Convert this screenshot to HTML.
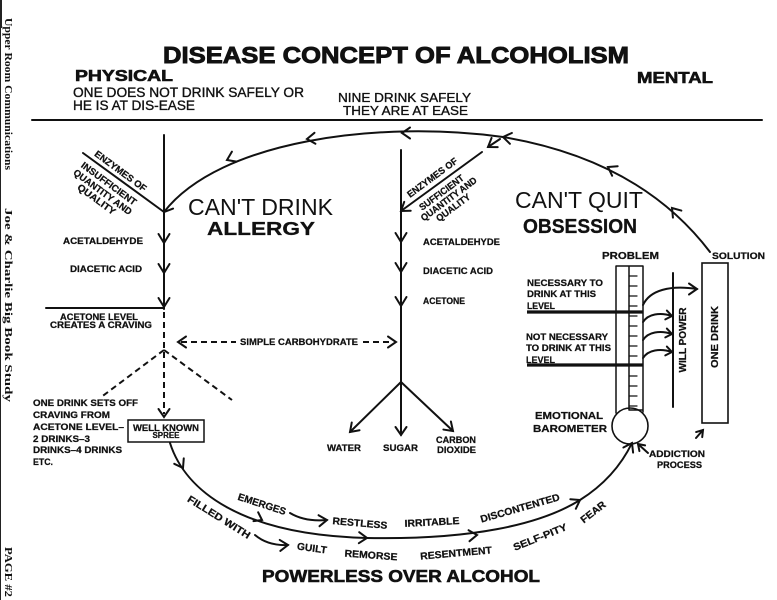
<!DOCTYPE html>
<html><head><meta charset="utf-8">
<style>
html,body{margin:0;padding:0;background:#fff;}
svg{display:block;}
text{font-family:"Liberation Sans",Arial,sans-serif;fill:#111;}
.s{font-size:9.5px;font-weight:bold;stroke:#111;stroke-width:0.25;}
.m{font-size:10px;font-weight:bold;stroke:#111;stroke-width:0.25;}
</style></head><body>
<svg width="777" height="600" viewBox="0 0 777 600" xmlns="http://www.w3.org/2000/svg">
<rect width="777" height="600" fill="#fff"/>
<line x1="0.5" y1="0" x2="0.5" y2="600" stroke="#222" stroke-width="1"/>
<line x1="1" y1="0" x2="1" y2="28" stroke="#222" stroke-width="2"/>

<!-- side texts -->
<g style="font-family:'Liberation Serif',serif;font-size:11px;font-weight:bold;">
<text transform="translate(5,18) rotate(90)" style="font-family:'Liberation Serif',serif" textLength="152" lengthAdjust="spacingAndGlyphs">Upper Room Communications</text>
<text transform="translate(5,208) rotate(90)" style="font-family:'Liberation Serif',serif" textLength="194" lengthAdjust="spacingAndGlyphs">Joe &amp; Charlie Big Book Study</text>
<text transform="translate(5,547) rotate(90)" style="font-family:'Liberation Serif',serif" textLength="50" lengthAdjust="spacingAndGlyphs">PAGE #2</text>
</g>

<!-- headings -->
<text x="163" y="63" font-size="23.5" font-weight="bold" stroke="#111" stroke-width="0.9" textLength="466" lengthAdjust="spacingAndGlyphs">DISEASE CONCEPT OF ALCOHOLISM</text>
<text x="75" y="81" font-size="15.5" font-weight="bold" stroke="#111" stroke-width="0.6" textLength="98" lengthAdjust="spacingAndGlyphs">PHYSICAL</text>
<text x="73" y="97" font-size="13.5" stroke="#111" stroke-width="0.35" textLength="231" lengthAdjust="spacingAndGlyphs">ONE DOES NOT DRINK SAFELY OR</text>
<text x="73" y="110" font-size="13.5" stroke="#111" stroke-width="0.35" textLength="122" lengthAdjust="spacingAndGlyphs">HE IS AT DIS-EASE</text>
<text x="338" y="102" font-size="13" stroke="#111" stroke-width="0.35" textLength="133" lengthAdjust="spacingAndGlyphs">NINE DRINK SAFELY</text>
<text x="343" y="115" font-size="13" stroke="#111" stroke-width="0.35" textLength="125" lengthAdjust="spacingAndGlyphs">THEY ARE AT EASE</text>
<text x="637" y="83" font-size="15.5" font-weight="bold" stroke="#111" stroke-width="0.6" textLength="76" lengthAdjust="spacingAndGlyphs">MENTAL</text>

<text x="188" y="215" font-size="23.5" textLength="145" lengthAdjust="spacingAndGlyphs">CAN'T DRINK</text>
<text x="207" y="235" font-size="18.5" font-weight="bold" stroke="#111" stroke-width="0.3" textLength="108" lengthAdjust="spacingAndGlyphs">ALLERGY</text>
<text x="515" y="208" font-size="23" textLength="128" lengthAdjust="spacingAndGlyphs">CAN'T QUIT</text>
<text x="523" y="233" font-size="20" font-weight="bold" stroke="#111" stroke-width="0.3" textLength="114" lengthAdjust="spacingAndGlyphs">OBSESSION</text>

<!-- lines -->
<g stroke="#111" stroke-width="2" fill="none" stroke-linecap="round">
<path d="M32,120 H762" stroke-width="2"/>
<path d="M710,252 Q640,160 503,137"/>
<path d="M503,137 C380,120 220,140 164,212"/>
<path d="M500,139 L488,147"/>
<path d="M482,152 L401,211"/>
<path d="M83,153 L164,212"/>
<path d="M164,135 V309"/>
<path d="M46,308 H164"/>
<path d="M164,312 V414" stroke-dasharray="6 4" stroke-linecap="butt"/>
<path d="M164,350 L100,398" stroke-dasharray="6 4" stroke-linecap="butt"/>
<path d="M164,350 L232,400" stroke-dasharray="6 4" stroke-linecap="butt"/>
<path d="M181,342 H236" stroke-dasharray="6 4" stroke-linecap="butt"/>
<path d="M363,342 H393" stroke-dasharray="6 4" stroke-linecap="butt"/>
<path d="M401,150 V382"/>
<path d="M401,382 L350,432 M401,382 V435 M401,382 L453,431"/>
<rect x="128" y="420" width="76" height="22" stroke-width="1.5"/>
<path d="M170,443 C185,490 240,535 367,538 C470,540 540,525 580,500 Q615,478 632,443"/>
<path d="M290,513 Q305,522 327,520"/>
<path d="M255,535 Q268,546 288,545"/>
<!-- thermometer -->
<path d="M616,266 H643 M616,266 V413 M643,266 V412 M629,266 V410 M629,410 H643" stroke-width="1.5"/>
<circle cx="630" cy="426" r="18" stroke-width="1.6"/>
<path d="M629,276 h8 M629,286 h8 M629,296 h8 M629,306 h8 M629,316 h8 M629,326 h8 M629,336 h8 M629,346 h8 M629,356 h8 M629,376 h8 M629,386 h8 M629,396 h8 M629,406 h8" stroke-width="1.2"/>
<path d="M527,312 H643 M527,365 H643" stroke-width="3.2" stroke-linecap="butt"/>
<path d="M643,305 C650,290 670,285 697,289"/>
<path d="M643,322 C648,314 660,312 672,316"/>
<path d="M643,340 C648,332 660,330 672,334"/>
<path d="M643,358 C648,350 660,348 672,352"/>
<path d="M673,273 V407"/>
<rect x="702" y="263" width="26" height="160" stroke-width="1.6"/>
<path d="M696,438 L703,430"/>
<path d="M648,453 L638,444"/>
</g>

<!-- arrowheads -->
<g stroke="#111" stroke-width="2" fill="none" stroke-linecap="round" stroke-linejoin="miter">
<polyline transform="translate(672,208) rotate(-130)" points="-8,-5.5 0,0 -8,5.5"/>
<polyline transform="translate(608,167) rotate(-150)" points="-8,-5.5 0,0 -8,5.5"/>
<polyline transform="translate(503,137) rotate(-170)" points="-8,-5.5 0,0 -8,5.5"/>
<polyline transform="translate(402,133) rotate(180)" points="-8,-5.5 0,0 -8,5.5"/>
<polyline transform="translate(307,139) rotate(175)" points="-8,-5.5 0,0 -8,5.5"/>
<polyline transform="translate(227,160) rotate(155)" points="-8,-5.5 0,0 -8,5.5"/>
<polyline transform="translate(164,212) rotate(125)" points="-8,-5.5 0,0 -8,5.5"/>
<polyline transform="translate(488,147) rotate(146)" points="-8,-5.5 0,0 -8,5.5"/>
<polyline transform="translate(401,211) rotate(144)" points="-8,-5.5 0,0 -8,5.5"/>
<polyline transform="translate(164,243) rotate(90)" points="-9,-5.5 0,0 -9,5.5"/>
<polyline transform="translate(164,273) rotate(90)" points="-9,-5.5 0,0 -9,5.5"/>
<polyline transform="translate(164,307) rotate(90)" points="-9,-5.5 0,0 -9,5.5"/>
<polyline transform="translate(164,417) rotate(90)" points="-8,-5.5 0,0 -8,5.5"/>
<polyline transform="translate(401,242) rotate(90)" points="-9,-5.5 0,0 -9,5.5"/>
<polyline transform="translate(401,272) rotate(90)" points="-9,-5.5 0,0 -9,5.5"/>
<polyline transform="translate(401,306) rotate(90)" points="-9,-5.5 0,0 -9,5.5"/>
<polyline transform="translate(178,342) rotate(180)" points="-8,-5.5 0,0 -8,5.5"/>
<polyline transform="translate(396,342) rotate(0)" points="-8,-5.5 0,0 -8,5.5"/>
<polyline transform="translate(350,432) rotate(135)" points="-8,-5.5 0,0 -8,5.5"/>
<polyline transform="translate(401,435) rotate(90)" points="-8,-5.5 0,0 -8,5.5"/>
<polyline transform="translate(453,431) rotate(43)" points="-8,-5.5 0,0 -8,5.5"/>
<polyline transform="translate(183,468) rotate(60)" points="-8,-5.5 0,0 -8,5.5"/>
<polyline transform="translate(262,520) rotate(28)" points="-7,-5 0,0 -7,5"/>
<polyline transform="translate(367,538) rotate(2)" points="-8,-5.5 0,0 -8,5.5"/>
<polyline transform="translate(477,535) rotate(-5)" points="-8,-5.5 0,0 -8,5.5"/>
<polyline transform="translate(580,500) rotate(-30)" points="-8,-5.5 0,0 -8,5.5"/>
<polyline transform="translate(632,443) rotate(-62)" points="-8,-5.5 0,0 -8,5.5"/>
<polyline transform="translate(327,520) rotate(-5)" points="-8,-5.5 0,0 -8,5.5"/>
<polyline transform="translate(288,545) rotate(-3)" points="-8,-5.5 0,0 -8,5.5"/>
<polyline transform="translate(697,289) rotate(0)" points="-8,-5.5 0,0 -8,5.5"/>
<polyline transform="translate(672,316) rotate(10)" points="-6,-4.5 0,0 -6,4.5"/>
<polyline transform="translate(672,334) rotate(10)" points="-6,-4.5 0,0 -6,4.5"/>
<polyline transform="translate(672,352) rotate(10)" points="-6,-4.5 0,0 -6,4.5"/>
<polyline transform="translate(703,430) rotate(-50)" points="-6,-4 0,0 -6,4"/>
<polyline transform="translate(638,444) rotate(-135)" points="-6,-4 0,0 -6,4"/>
</g>

<!-- diagonal enzyme labels -->
<g transform="translate(83,153) rotate(36.4)">
<text x="10" y="-4.5" class="s" textLength="62" lengthAdjust="spacingAndGlyphs">ENZYMES OF</text>
<text x="6" y="12.5" class="s" textLength="66" lengthAdjust="spacingAndGlyphs">INSUFFICIENT</text>
<text x="4" y="23" class="s" textLength="70" lengthAdjust="spacingAndGlyphs">QUANTITY AND</text>
<text x="16" y="32.5" class="s" textLength="45" lengthAdjust="spacingAndGlyphs">QUALITY</text>
</g>
<g transform="translate(401,211) rotate(-36.5)">
<text x="15" y="-5" class="s" textLength="60" lengthAdjust="spacingAndGlyphs">ENZYMES OF</text>
<text x="17" y="12.5" class="s" textLength="53" lengthAdjust="spacingAndGlyphs">SUFFICIENT</text>
<text x="12" y="22" class="s" textLength="67" lengthAdjust="spacingAndGlyphs">QUANTITY AND</text>
<text x="24" y="31.5" class="s" textLength="40" lengthAdjust="spacingAndGlyphs">QUALITY</text>
</g>

<!-- small labels -->
<text x="63" y="244" class="s" textLength="80" lengthAdjust="spacingAndGlyphs">ACETALDEHYDE</text>
<text x="70" y="272" class="s" textLength="72" lengthAdjust="spacingAndGlyphs">DIACETIC ACID</text>
<text x="423" y="245" class="s" textLength="77" lengthAdjust="spacingAndGlyphs">ACETALDEHYDE</text>
<text x="423" y="274" class="s" textLength="70" lengthAdjust="spacingAndGlyphs">DIACETIC ACID</text>
<text x="423" y="304" class="s" textLength="42" lengthAdjust="spacingAndGlyphs">ACETONE</text>
<text x="60" y="320" class="s" textLength="78" lengthAdjust="spacingAndGlyphs">ACETONE LEVEL</text>
<text x="50" y="328" class="s" textLength="102" lengthAdjust="spacingAndGlyphs">CREATES A CRAVING</text>
<text x="240" y="345" class="s" textLength="118" lengthAdjust="spacingAndGlyphs">SIMPLE CARBOHYDRATE</text>

<text x="33" y="406" class="s" textLength="105" lengthAdjust="spacingAndGlyphs">ONE DRINK SETS OFF</text>
<text x="33" y="418" class="s" textLength="77" lengthAdjust="spacingAndGlyphs">CRAVING FROM</text>
<text x="33" y="430" class="s" textLength="91" lengthAdjust="spacingAndGlyphs">ACETONE LEVEL–</text>
<text x="33" y="442" class="s" textLength="57" lengthAdjust="spacingAndGlyphs">2 DRINKS–3</text>
<text x="33" y="453" class="s" textLength="89" lengthAdjust="spacingAndGlyphs">DRINKS–4 DRINKS</text>
<text x="33" y="465" class="s" textLength="20" lengthAdjust="spacingAndGlyphs">ETC.</text>

<text x="166" y="431" class="s" text-anchor="middle" textLength="66" lengthAdjust="spacingAndGlyphs">WELL KNOWN</text>
<text x="166" y="438" class="s" text-anchor="middle" style="font-size:8px" textLength="27" lengthAdjust="spacingAndGlyphs">SPREE</text>

<text x="327" y="451" class="s" textLength="34" lengthAdjust="spacingAndGlyphs">WATER</text>
<text x="383" y="451" class="s" textLength="35" lengthAdjust="spacingAndGlyphs">SUGAR</text>
<text x="436" y="443" class="s" textLength="40" lengthAdjust="spacingAndGlyphs">CARBON</text>
<text x="437" y="453" class="s" textLength="39" lengthAdjust="spacingAndGlyphs">DIOXIDE</text>

<!-- right side -->
<text x="602" y="259" class="m" textLength="57" lengthAdjust="spacingAndGlyphs">PROBLEM</text>
<text x="712" y="259" class="s" textLength="53" lengthAdjust="spacingAndGlyphs">SOLUTION</text>
<text x="527" y="286" class="s" textLength="76" lengthAdjust="spacingAndGlyphs">NECESSARY TO</text>
<text x="527" y="297" class="s" textLength="69" lengthAdjust="spacingAndGlyphs">DRINK AT THIS</text>
<text x="527" y="309" class="s" textLength="28" lengthAdjust="spacingAndGlyphs">LEVEL</text>
<text x="526" y="340" class="s" textLength="82" lengthAdjust="spacingAndGlyphs">NOT NECESSARY</text>
<text x="526" y="351" class="s" textLength="85" lengthAdjust="spacingAndGlyphs">TO DRINK AT THIS</text>
<text x="526" y="363" class="s" textLength="29" lengthAdjust="spacingAndGlyphs">LEVEL</text>
<text transform="translate(686,340) rotate(-90)" text-anchor="middle" class="m" textLength="65" lengthAdjust="spacingAndGlyphs">WILL POWER</text>
<text transform="translate(718,337) rotate(-90)" text-anchor="middle" class="m" textLength="62" lengthAdjust="spacingAndGlyphs">ONE DRINK</text>
<text x="535" y="419" class="m" style="font-size:10.5px" textLength="68" lengthAdjust="spacingAndGlyphs">EMOTIONAL</text>
<text x="533" y="432" class="m" style="font-size:10.5px" textLength="74" lengthAdjust="spacingAndGlyphs">BAROMETER</text>
<text x="649" y="457" class="s" textLength="56" lengthAdjust="spacingAndGlyphs">ADDICTION</text>
<text x="657" y="468" class="s" textLength="45" lengthAdjust="spacingAndGlyphs">PROCESS</text>

<!-- bottom labels -->
<text transform="translate(219,517) rotate(32)" y="3.5" text-anchor="middle" class="m" textLength="72" lengthAdjust="spacingAndGlyphs">FILLED WITH</text>
<text transform="translate(262,504) rotate(18)" y="3.5" text-anchor="middle" class="m" textLength="50" lengthAdjust="spacingAndGlyphs">EMERGES</text>
<text transform="translate(360,523) rotate(5)" y="3.5" text-anchor="middle" class="m" textLength="55" lengthAdjust="spacingAndGlyphs">RESTLESS</text>
<text transform="translate(432,522) rotate(-3)" y="3.5" text-anchor="middle" class="m" textLength="55" lengthAdjust="spacingAndGlyphs">IRRITABLE</text>
<text transform="translate(520,508) rotate(-16)" y="3.5" text-anchor="middle" class="m" textLength="82" lengthAdjust="spacingAndGlyphs">DISCONTENTED</text>
<text transform="translate(593,512) rotate(-38)" y="3.5" text-anchor="middle" class="m" textLength="29" lengthAdjust="spacingAndGlyphs">FEAR</text>
<text transform="translate(312,548) rotate(8)" y="3.5" text-anchor="middle" class="m" textLength="30" lengthAdjust="spacingAndGlyphs">GUILT</text>
<text transform="translate(371,555) rotate(4)" y="3.5" text-anchor="middle" class="m" textLength="53" lengthAdjust="spacingAndGlyphs">REMORSE</text>
<text transform="translate(456,553) rotate(-5)" y="3.5" text-anchor="middle" class="m" textLength="72" lengthAdjust="spacingAndGlyphs">RESENTMENT</text>
<text transform="translate(540,537) rotate(-22)" y="3.5" text-anchor="middle" class="m" textLength="57" lengthAdjust="spacingAndGlyphs">SELF-PITY</text>

<text x="262" y="582" font-size="17.5" font-weight="bold" stroke="#111" stroke-width="0.6" textLength="278" lengthAdjust="spacingAndGlyphs">POWERLESS OVER ALCOHOL</text>
</svg>
</body></html>
